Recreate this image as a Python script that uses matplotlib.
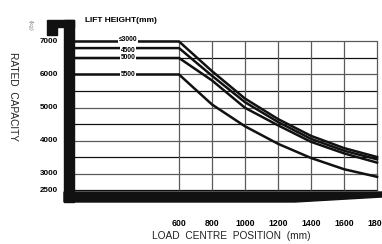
import matplotlib
matplotlib.use('Agg')
import matplotlib.pyplot as plt
from matplotlib.patches import Polygon

# Liberation Sans is the narrowest sans face available here
plt.rcParams['font.family'] = ['Liberation Sans', 'DejaVu Sans']

# load centre positions (mm) and rated capacity (kg) per lift height
load_centres = [600, 800, 1000, 1200, 1400, 1600, 1800]
lift_labels = ['≤3000', '4500', '5000', '5500']
cap_3000 = [7000, 6100, 5270, 4650, 4140, 3770, 3500]
cap_4500 = [6800, 5960, 5160, 4560, 4050, 3690, 3430]
cap_5000 = [6500, 5820, 4990, 4460, 3960, 3610, 3330]
cap_5500 = [6000, 5090, 4430, 3900, 3470, 3130, 2900]
capacities = [cap_3000, cap_4500, cap_5000, cap_5500]

y_ticks = [7000, 6000, 5000, 4000, 3000, 2500]
grid_levels = [7000, 6500, 6000, 5500, 5000, 4500, 4000, 3500, 3000, 2500]

W, H = 382, 244
fig = plt.figure(figsize=(W / 100, H / 100), dpi=100)


def fpx(x, y):
    # pixel (from top-left) -> figure fraction
    return (x / W, 1 - y / H)


ax = fig.add_axes([64 / W, 1 - 202 / H, 318 / W, 182 / H])
ax.set_xlim(-97, 1830)
ax.set_ylim(2137, 7651)
ax.axis('off')

x0, x1 = ax.get_xlim()
xmin_frac = 10 / 318
xmax_frac = (1800 - x0) / (x1 - x0)

# grid
for lv in grid_levels:
    col = '#111111' if lv % 1000 else '#5a5a5a'
    ax.axhline(lv, xmin=xmin_frac, xmax=xmax_frac, color=col, lw=0.9, zorder=1)
ax.vlines(load_centres, 2500, 7000, color='#5a5a5a', lw=0.9, zorder=1)

# curves (flat part from the axis up to 600 mm)
for caps in capacities:
    ax.plot([x0] + load_centres, [caps[0]] + caps, color='#111111', lw=1.8,
            solid_joinstyle='miter', zorder=3)

# curve labels
offsets = [70, -60, 0, 0]
for lab, caps, off in zip(lift_labels, capacities, offsets):
    ax.text(290, caps[0] + off, lab, ha='center', va='center', fontsize=4.8,
            fontweight='bold', zorder=4,
            bbox=dict(facecolor='white', edgecolor='none', pad=0.5))

# thick axis bars
k = '#111111'
fig.patches.append(Polygon([fpx(64, 20), fpx(74, 20), fpx(74, 202), fpx(64, 202)],
                           closed=True, transform=fig.transFigure, color=k, zorder=5))
fig.patches.append(Polygon([fpx(47, 20), fpx(74, 20), fpx(74, 27), fpx(57, 27),
                            fpx(57, 35), fpx(47, 35)],
                           closed=True, transform=fig.transFigure, color=k, zorder=5))
fig.patches.append(Polygon([fpx(64, 192), fpx(382, 192), fpx(382, 197), fpx(295, 202),
                            fpx(64, 202)],
                           closed=True, transform=fig.transFigure, color=k, zorder=5))

# tick labels
for yt in y_ticks:
    ax.text(-133, yt, str(yt), ha='right', va='center', fontsize=5.8,
            fontweight='bold', clip_on=False)
for xt in load_centres:
    ax.text(xt, 1480, str(xt), ha='center', va='center', fontsize=6.3,
            fontweight='bold', clip_on=False)

fig.text(*fpx(85, 20), 'LIFT HEIGHT(mm)', ha='left', va='center',
         fontsize=6, fontweight='bold')
fig.text(*fpx(231, 236), 'LOAD  CENTRE  POSITION  (mm)', ha='center',
         va='center', fontsize=7.3, color='#222222')
fig.text(*fpx(13, 96), 'RATED  CAPACITY', ha='center', va='center',
         rotation=270, fontsize=7.3, color='#222222')
fig.text(*fpx(30, 25), '(kg)', ha='center', va='center', rotation=270,
         fontsize=4.5, color='#888888')

fig.savefig('out.png', dpi=100)
